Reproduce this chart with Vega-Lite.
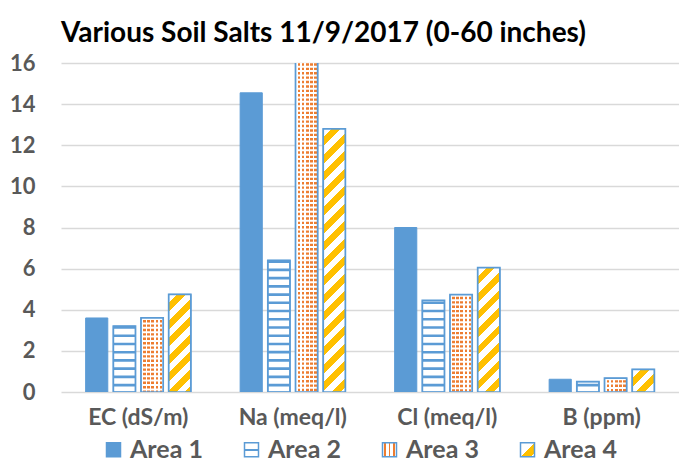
{
  "$schema": "https://vega.github.io/schema/vega-lite/v6.json",
  "autosize": {"type": "none"},
  "width": 618,
  "height": 329,
  "padding": {"left": 61, "top": 63, "right": 0, "bottom": 75},
  "background": "white",
  "config": {"view": {"stroke": null}},
  "title": {"text": "Various Soil Salts 11/9/2017 (0-60 inches)", "anchor": "start", "frame": "group", "font": "Lato", "fontSize": 28, "fontWeight": "bold", "color": "#000000", "offset": 4},
  "params": [
    {"name": "legG2", "value": {"gradient": "linear", "x1": 0, "y1": 0, "x2": 0, "y2": 1, "stops": [
      {"offset": 0, "color": "#ffffff"}, {"offset": 0.42, "color": "#ffffff"}, {"offset": 0.42, "color": "#5b9bd5"}, {"offset": 0.58, "color": "#5b9bd5"}, {"offset": 0.58, "color": "#ffffff"}, {"offset": 1, "color": "#ffffff"}]}},
    {"name": "legG3", "value": {"gradient": "linear", "x1": 0, "y1": 0, "x2": 1, "y2": 0, "stops": [
      {"offset": 0, "color": "#ffffff"}, {"offset": 0.14, "color": "#ffffff"}, {"offset": 0.14, "color": "#ed7d31"}, {"offset": 0.26, "color": "#ed7d31"}, {"offset": 0.26, "color": "#ffffff"},
      {"offset": 0.44, "color": "#ffffff"}, {"offset": 0.44, "color": "#ed7d31"}, {"offset": 0.56, "color": "#ed7d31"}, {"offset": 0.56, "color": "#ffffff"},
      {"offset": 0.74, "color": "#ffffff"}, {"offset": 0.74, "color": "#ed7d31"}, {"offset": 0.86, "color": "#ed7d31"}, {"offset": 0.86, "color": "#ffffff"}, {"offset": 1, "color": "#ffffff"}]}},
    {"name": "legG4", "value": {"gradient": "linear", "x1": 0, "y1": 0, "x2": 1, "y2": 1, "stops": [
      {"offset": 0, "color": "#ffffff"}, {"offset": 0.5, "color": "#ffffff"}, {"offset": 0.5, "color": "#ffc000"}, {"offset": 0.85, "color": "#ffc000"}, {"offset": 0.85, "color": "#ffffff"}, {"offset": 1, "color": "#ffffff"}]}},
    {"name": "diagStops", "value": [
      {"offset": 0, "color": "#ffffff"}, {"offset": 0.025, "color": "#ffffff"}, {"offset": 0.025, "color": "#ffc000"}, {"offset": 0.05, "color": "#ffc000"},
      {"offset": 0.05, "color": "#ffffff"}, {"offset": 0.075, "color": "#ffffff"}, {"offset": 0.075, "color": "#ffc000"}, {"offset": 0.1, "color": "#ffc000"},
      {"offset": 0.1, "color": "#ffffff"}, {"offset": 0.125, "color": "#ffffff"}, {"offset": 0.125, "color": "#ffc000"}, {"offset": 0.15, "color": "#ffc000"},
      {"offset": 0.15, "color": "#ffffff"}, {"offset": 0.175, "color": "#ffffff"}, {"offset": 0.175, "color": "#ffc000"}, {"offset": 0.2, "color": "#ffc000"},
      {"offset": 0.2, "color": "#ffffff"}, {"offset": 0.225, "color": "#ffffff"}, {"offset": 0.225, "color": "#ffc000"}, {"offset": 0.25, "color": "#ffc000"},
      {"offset": 0.25, "color": "#ffffff"}, {"offset": 0.275, "color": "#ffffff"}, {"offset": 0.275, "color": "#ffc000"}, {"offset": 0.3, "color": "#ffc000"},
      {"offset": 0.3, "color": "#ffffff"}, {"offset": 0.325, "color": "#ffffff"}, {"offset": 0.325, "color": "#ffc000"}, {"offset": 0.35, "color": "#ffc000"},
      {"offset": 0.35, "color": "#ffffff"}, {"offset": 0.375, "color": "#ffffff"}, {"offset": 0.375, "color": "#ffc000"}, {"offset": 0.4, "color": "#ffc000"},
      {"offset": 0.4, "color": "#ffffff"}, {"offset": 0.425, "color": "#ffffff"}, {"offset": 0.425, "color": "#ffc000"}, {"offset": 0.45, "color": "#ffc000"},
      {"offset": 0.45, "color": "#ffffff"}, {"offset": 0.475, "color": "#ffffff"}, {"offset": 0.475, "color": "#ffc000"}, {"offset": 0.5, "color": "#ffc000"},
      {"offset": 0.5, "color": "#ffffff"}, {"offset": 0.525, "color": "#ffffff"}, {"offset": 0.525, "color": "#ffc000"}, {"offset": 0.55, "color": "#ffc000"},
      {"offset": 0.55, "color": "#ffffff"}, {"offset": 0.575, "color": "#ffffff"}, {"offset": 0.575, "color": "#ffc000"}, {"offset": 0.6, "color": "#ffc000"},
      {"offset": 0.6, "color": "#ffffff"}, {"offset": 0.625, "color": "#ffffff"}, {"offset": 0.625, "color": "#ffc000"}, {"offset": 0.65, "color": "#ffc000"},
      {"offset": 0.65, "color": "#ffffff"}, {"offset": 0.675, "color": "#ffffff"}, {"offset": 0.675, "color": "#ffc000"}, {"offset": 0.7, "color": "#ffc000"},
      {"offset": 0.7, "color": "#ffffff"}, {"offset": 0.725, "color": "#ffffff"}, {"offset": 0.725, "color": "#ffc000"}, {"offset": 0.75, "color": "#ffc000"},
      {"offset": 0.75, "color": "#ffffff"}, {"offset": 0.775, "color": "#ffffff"}, {"offset": 0.775, "color": "#ffc000"}, {"offset": 0.8, "color": "#ffc000"},
      {"offset": 0.8, "color": "#ffffff"}, {"offset": 0.825, "color": "#ffffff"}, {"offset": 0.825, "color": "#ffc000"}, {"offset": 0.85, "color": "#ffc000"},
      {"offset": 0.85, "color": "#ffffff"}, {"offset": 0.875, "color": "#ffffff"}, {"offset": 0.875, "color": "#ffc000"}, {"offset": 0.9, "color": "#ffc000"},
      {"offset": 0.9, "color": "#ffffff"}, {"offset": 0.925, "color": "#ffffff"}, {"offset": 0.925, "color": "#ffc000"}, {"offset": 0.95, "color": "#ffc000"},
      {"offset": 0.95, "color": "#ffffff"}, {"offset": 0.975, "color": "#ffffff"}, {"offset": 0.975, "color": "#ffc000"}, {"offset": 1, "color": "#ffc000"}
    ]}
  ],
  "data": {"values": [
    {"cat": "EC (dS/m)", "area": "Area 1", "value": 3.6},
    {"cat": "EC (dS/m)", "area": "Area 2", "value": 3.2},
    {"cat": "EC (dS/m)", "area": "Area 3", "value": 3.6},
    {"cat": "EC (dS/m)", "area": "Area 4", "value": 4.75},
    {"cat": "Na (meq/l)", "area": "Area 1", "value": 14.55},
    {"cat": "Na (meq/l)", "area": "Area 2", "value": 6.4},
    {"cat": "Na (meq/l)", "area": "Area 3", "value": 16.3},
    {"cat": "Na (meq/l)", "area": "Area 4", "value": 12.8},
    {"cat": "Cl (meq/l)", "area": "Area 1", "value": 8.0},
    {"cat": "Cl (meq/l)", "area": "Area 2", "value": 4.45},
    {"cat": "Cl (meq/l)", "area": "Area 3", "value": 4.73},
    {"cat": "Cl (meq/l)", "area": "Area 4", "value": 6.05},
    {"cat": "B (ppm)", "area": "Area 1", "value": 0.62},
    {"cat": "B (ppm)", "area": "Area 2", "value": 0.5},
    {"cat": "B (ppm)", "area": "Area 3", "value": 0.67},
    {"cat": "B (ppm)", "area": "Area 4", "value": 1.1}
  ]},
  "encoding": {
    "x": {"field": "cat", "type": "nominal", "sort": null, "title": null,
      "scale": {"domain": ["EC (dS/m)", "Na (meq/l)", "Cl (meq/l)", "B (ppm)"], "paddingInner": 0, "paddingOuter": 0},
      "axis": {"domain": false, "ticks": false, "labelAngle": 0, "labelPadding": 14, "labelFont": "Lato", "labelFontSize": 23, "labelFontWeight": "bold", "labelColor": "#595959", "grid": false}},
    "xOffset": {"field": "area", "type": "nominal", "sort": null,
      "scale": {"domain": ["Area 1", "Area 2", "Area 3", "Area 4"], "paddingInner": 0.2, "paddingOuter": 0.89}}
  },
  "layer": [
    {
      "mark": {"type": "bar", "clip": true, "strokeWidth": 1,
        "fill": {"expr": "(datum.area === 'Area 1' || datum.value === 'Area 1') ? '#5b9bd5' : datum.value === 'Area 2' ? legG2 : datum.value === 'Area 3' ? legG3 : datum.value === 'Area 4' ? legG4 : '#ffffff'"}},
      "encoding": {
        "y": {"field": "value", "type": "quantitative", "title": null,
          "scale": {"domain": [0, 16], "nice": false},
          "axis": {"values": [0, 2, 4, 6, 8, 10, 12, 14, 16], "domain": false, "ticks": false, "grid": true, "gridColor": "#d9d9d9", "gridWidth": 1.5, "labelPadding": 26, "labelFont": "Lato", "labelFontSize": 22, "labelFontWeight": "bold", "labelColor": "#595959"}},
        "stroke": {"field": "area", "type": "nominal",
          "scale": {"domain": ["Area 1", "Area 2", "Area 3", "Area 4"], "range": ["#5b9bd5", "#5b9bd5", "#5b9bd5", "#5b9bd5"]},
          "legend": {"title": null, "orient": "none", "legendX": 40, "legendY": 374, "direction": "horizontal", "symbolType": "square", "symbolSize": 196,
            "symbolStrokeWidth": 1.5, "symbolOpacity": 1,
            "labelFont": "Lato", "labelFontSize": 25, "labelFontWeight": "bold", "labelColor": "#595959",
            "columnPadding": 36, "labelOffset": 4}}
      }
    },
    {
      "transform": [{"filter": "datum.area === 'Area 3'"}],
      "mark": {"type": "bar", "clip": true, "fill": {"gradient": "linear", "x1": 0, "y1": 0, "x2": 1, "y2": 0, "stops": [
        {"offset": 0, "color": "#ffffff"},
        {"offset": 0.1, "color": "#ffffff"}, {"offset": 0.1, "color": "#ed7d31"}, {"offset": 0.22, "color": "#ed7d31"}, {"offset": 0.22, "color": "#ffffff"},
        {"offset": 0.285, "color": "#ffffff"}, {"offset": 0.285, "color": "#ed7d31"}, {"offset": 0.405, "color": "#ed7d31"}, {"offset": 0.405, "color": "#ffffff"},
        {"offset": 0.47, "color": "#ffffff"}, {"offset": 0.47, "color": "#ed7d31"}, {"offset": 0.59, "color": "#ed7d31"}, {"offset": 0.59, "color": "#ffffff"},
        {"offset": 0.655, "color": "#ffffff"}, {"offset": 0.655, "color": "#ed7d31"}, {"offset": 0.775, "color": "#ed7d31"}, {"offset": 0.775, "color": "#ffffff"},
        {"offset": 0.84, "color": "#ffffff"}, {"offset": 0.84, "color": "#ed7d31"}, {"offset": 0.96, "color": "#ed7d31"}, {"offset": 0.96, "color": "#ffffff"},
        {"offset": 1, "color": "#ffffff"}]}},
      "encoding": {"y": {"field": "value", "type": "quantitative"}}
    },
    {
      "transform": [{"filter": "datum.area === 'Area 4'"}],
      "mark": {"type": "bar", "clip": true, "fill": {"expr": "{gradient: 'linear', x1: 0, y1: 0, x2: 350*22.15/(490.6 + pow(datum.value*20.5625, 2)), y2: 350*datum.value*20.5625/(490.6 + pow(datum.value*20.5625, 2)), stops: diagStops}"}},
      "encoding": {"y": {"field": "value", "type": "quantitative"}}
    },
    {
      "transform": [{"filter": "datum.area === 'Area 2'"}],
      "mark": {"type": "rule", "clip": true, "color": "#5b9bd5", "strokeWidth": 22.15, "strokeDash": [2.6, 5.625], "strokeDashOffset": {"expr": "-datum.value*20.5625"}, "strokeCap": "butt"},
      "encoding": {"y": {"field": "value", "type": "quantitative"}, "y2": {"datum": 0}}
    },
    {
      "transform": [{"filter": "datum.area === 'Area 3'"}],
      "mark": {"type": "rule", "clip": true, "color": "#ffffff", "strokeWidth": 22.15, "strokeDash": [2.0, 2.4], "strokeCap": "butt"},
      "encoding": {"y": {"field": "value", "type": "quantitative"}, "y2": {"datum": 0}}
    },
    {
      "transform": [{"filter": "datum.area !== 'Area 1'"}],
      "mark": {"type": "bar", "clip": true, "fill": null, "fillOpacity": 0, "stroke": "#5b9bd5", "strokeWidth": 1.75},
      "encoding": {"y": {"field": "value", "type": "quantitative"}}
    }
  ]
}
